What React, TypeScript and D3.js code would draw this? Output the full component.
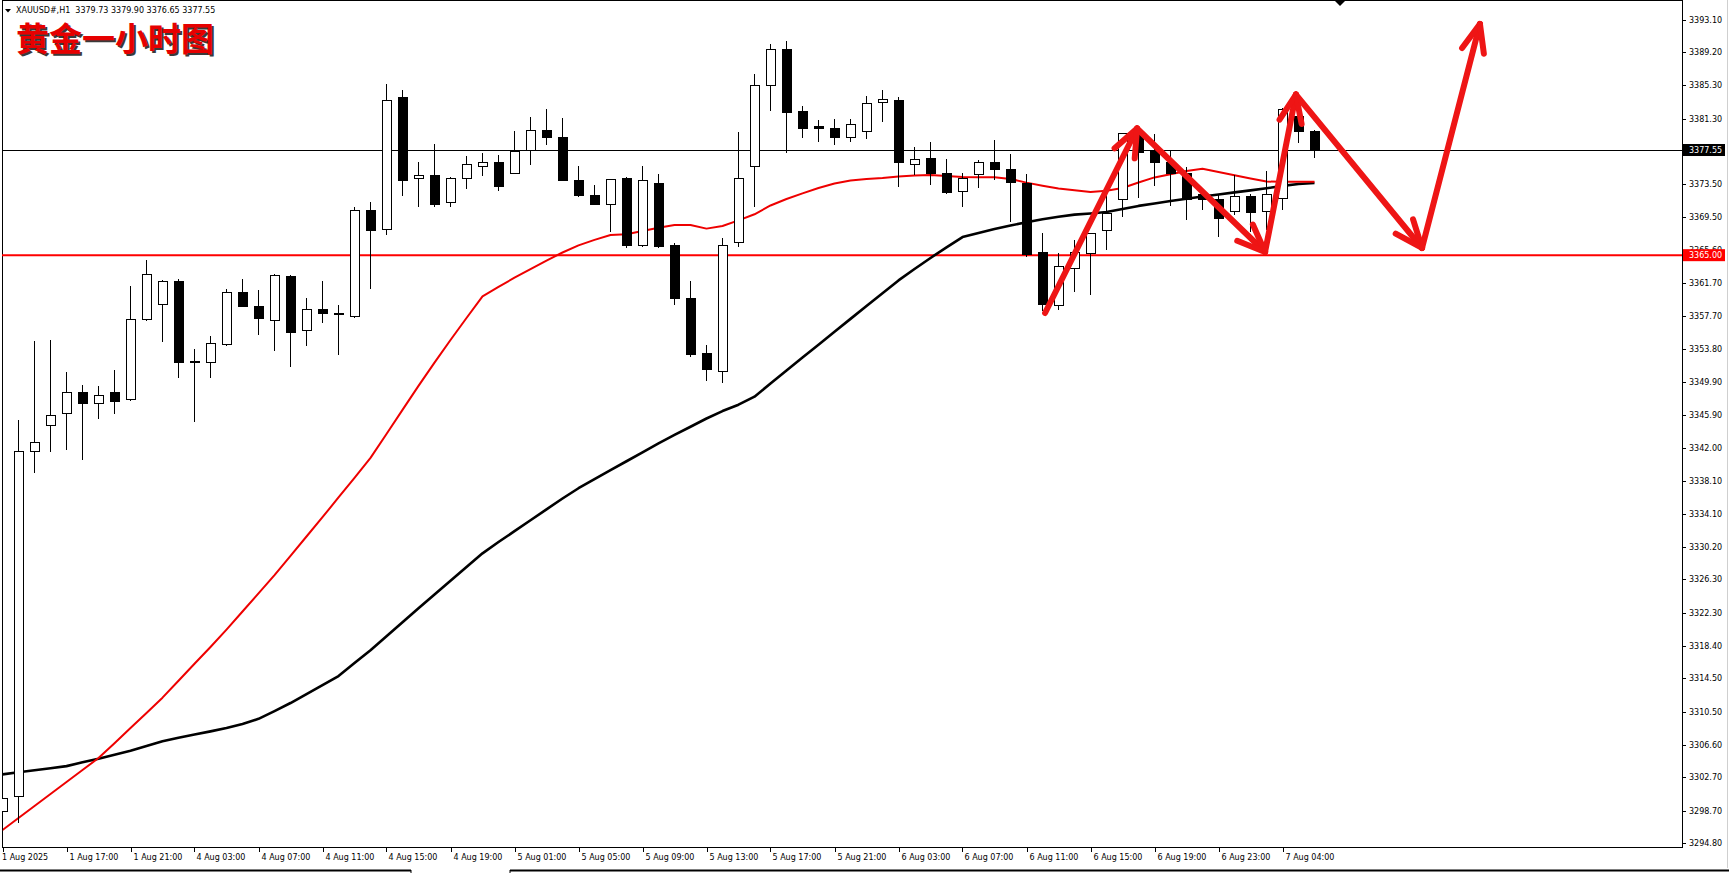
import React from 'react';
import * as d3 from 'd3';

// ---- Data (XAUUSD H1) ----
const OPEN = [
  3298.6, 3300.4, 3341.6, 3344.7, 3346.1, 3348.6, 3347.3, 3348.6, 3347.8, 3357.3,
  3359.1, 3361.9, 3352.3, 3352.2, 3354.4, 3360.5, 3358.9, 3357.2, 3362.4, 3356.0,
  3358.5, 3358.0, 3357.7, 3370.3, 3368.1, 3383.8, 3374.1, 3374.5, 3371.3, 3374.1,
  3375.6, 3376.1, 3374.8, 3377.5, 3379.9, 3379.0, 3373.9, 3372.1, 3371.1, 3374.2,
  3366.1, 3373.5, 3366.2, 3359.8, 3353.3, 3351.1, 3366.5, 3375.6, 3385.2, 3389.6,
  3382.1, 3380.4, 3380.1, 3379.0, 3379.7, 3383.2, 3383.4, 3375.8, 3376.5, 3374.7,
  3372.6, 3374.6, 3376.1, 3375.2, 3373.6, 3365.3, 3359.0, 3363.4, 3365.2, 3368.0,
  3371.6, 3379.5, 3377.5, 3376.0, 3374.8, 3372.2, 3371.6, 3370.2, 3372.0, 3370.2,
  3371.8, 3381.5, 3379.73,
];
const HIGH = [
  3301.3, 3345.3, 3354.7, 3354.9, 3351.1, 3349.5, 3349.4, 3351.3, 3361.3, 3364.4,
  3362.0, 3362.1, 3353.8, 3355.4, 3361.0, 3362.2, 3360.9, 3362.8, 3362.6, 3359.9,
  3361.9, 3359.1, 3370.8, 3371.3, 3385.4, 3384.7, 3376.1, 3378.3, 3374.3, 3376.8,
  3377.2, 3377.0, 3379.8, 3381.5, 3382.4, 3381.4, 3375.7, 3373.4, 3374.1, 3374.3,
  3375.7, 3374.7, 3366.5, 3361.9, 3354.3, 3367.0, 3379.7, 3386.6, 3390.2, 3390.6,
  3382.8, 3381.1, 3381.3, 3381.3, 3384.0, 3384.7, 3383.9, 3377.9, 3378.5, 3376.5,
  3374.8, 3376.4, 3378.7, 3377.1, 3374.7, 3367.7, 3365.3, 3366.8, 3367.7, 3373.4,
  3379.5, 3380.3, 3379.5, 3377.6, 3375.5, 3372.8, 3372.2, 3374.6, 3372.3, 3375.0,
  3382.6, 3382.3, 3379.90,
];
const LOW = [
  3296.4, 3297.3, 3339.0, 3341.5, 3341.7, 3340.6, 3345.5, 3346.0, 3347.6, 3357.2,
  3354.6, 3350.4, 3345.1, 3350.3, 3354.2, 3358.8, 3355.5, 3353.6, 3351.7, 3354.2,
  3356.9, 3353.1, 3357.5, 3361.0, 3367.4, 3372.1, 3370.8, 3370.8, 3370.8, 3372.9,
  3374.5, 3372.7, 3374.8, 3375.8, 3378.1, 3373.8, 3372.0, 3371.0, 3367.8, 3365.9,
  3366.0, 3365.9, 3359.1, 3352.9, 3350.0, 3349.8, 3366.0, 3370.7, 3382.2, 3377.2,
  3379.0, 3378.5, 3378.2, 3378.5, 3378.9, 3380.9, 3373.1, 3374.6, 3373.4, 3372.3,
  3370.7, 3373.0, 3374.0, 3369.0, 3364.8, 3358.3, 3358.5, 3360.6, 3360.2, 3365.6,
  3369.6, 3371.8, 3373.2, 3370.9, 3369.2, 3370.4, 3367.2, 3369.8, 3367.8, 3368.0,
  3370.4, 3378.4, 3376.65,
];
const CLOSE = [
  3300.2, 3341.6, 3342.6, 3345.9, 3348.6, 3347.3, 3348.2, 3347.5, 3357.3, 3362.7,
  3361.9, 3352.2, 3352.2, 3354.5, 3360.5, 3358.9, 3357.5, 3362.6, 3355.8, 3358.5,
  3358.1, 3357.9, 3370.3, 3367.9, 3383.4, 3373.9, 3374.5, 3371.0, 3374.2, 3375.8,
  3376.0, 3373.2, 3377.4, 3379.9, 3379.1, 3373.9, 3372.1, 3371.1, 3374.0, 3366.1,
  3373.9, 3366.0, 3359.8, 3353.1, 3351.3, 3366.2, 3374.1, 3385.2, 3389.6, 3382.0,
  3380.1, 3380.1, 3379.0, 3380.6, 3383.1, 3383.6, 3376.1, 3376.4, 3374.7, 3372.5,
  3374.2, 3376.1, 3375.2, 3373.7, 3365.1, 3359.1, 3363.6, 3365.3, 3367.6, 3370.0,
  3379.5, 3377.3, 3376.0, 3374.8, 3371.7, 3371.6, 3369.4, 3372.0, 3370.1, 3372.2,
  3382.4, 3379.7, 3377.55,
];
const MA_RED = [
  3296.40, 3297.84, 3299.27, 3300.70, 3302.13, 3303.56, 3305.00, 3306.76, 3308.58, 3310.37,
  3312.20, 3314.22, 3316.24, 3318.24, 3320.32, 3322.48, 3324.64, 3326.83, 3329.13, 3331.43,
  3333.73, 3336.09, 3338.44, 3340.81, 3343.67, 3346.54, 3349.40, 3352.18, 3354.88, 3357.50,
  3360.09, 3361.21, 3362.31, 3363.34, 3364.35, 3365.32, 3366.17, 3366.83, 3367.41, 3367.50,
  3367.88, 3368.27, 3368.60, 3368.60, 3368.17, 3368.48, 3369.15, 3369.88, 3370.93, 3371.70,
  3372.38, 3373.02, 3373.55, 3373.91, 3374.08, 3374.21, 3374.39, 3374.50, 3374.57, 3374.46,
  3374.34, 3374.29, 3374.29, 3374.10, 3373.66, 3373.29, 3372.96, 3372.74, 3372.54, 3372.68,
  3373.02, 3373.68, 3374.28, 3374.66, 3375.04, 3375.31, 3374.92, 3374.53, 3374.15, 3373.78,
  3373.77, 3373.77, 3373.77,
];
const MA_BLACK = [
  3303.05, 3303.30, 3303.53, 3303.78, 3304.03, 3304.48, 3304.91, 3305.39, 3305.86, 3306.42,
  3306.99, 3307.42, 3307.80, 3308.18, 3308.57, 3309.07, 3309.67, 3310.59, 3311.56, 3312.63,
  3313.71, 3314.78, 3316.33, 3317.86, 3319.52, 3321.20, 3322.87, 3324.52, 3326.15, 3327.79,
  3329.42, 3330.77, 3332.07, 3333.37, 3334.67, 3335.96, 3337.19, 3338.27, 3339.34, 3340.41,
  3341.48, 3342.55, 3343.56, 3344.53, 3345.51, 3346.40, 3347.16, 3348.12, 3349.69, 3351.23,
  3352.78, 3354.32, 3355.86, 3357.40, 3358.93, 3360.45, 3361.99, 3363.35, 3364.67, 3365.93,
  3367.16, 3367.66, 3368.13, 3368.54, 3368.93, 3369.29, 3369.58, 3369.84, 3369.98, 3370.15,
  3370.51, 3370.88, 3371.17, 3371.46, 3371.73, 3372.01, 3372.25, 3372.49, 3372.73, 3372.98,
  3373.27, 3373.49, 3373.61,
];
const Y_TICKS = [
  3393.10, 3389.20, 3385.30, 3381.30, 3377.40, 3373.50, 3369.50, 3365.60, 3361.70, 3357.70,
  3353.80, 3349.90, 3345.90, 3342.00, 3338.10, 3334.10, 3330.20, 3326.30, 3322.30, 3318.40,
  3314.50, 3310.50, 3306.60, 3302.70, 3298.70, 3294.80,
];
const X_LABEL_BARS = [0, 4, 8, 12, 16, 20, 24, 28, 32, 36, 40, 44, 48, 52, 56, 60, 64, 68, 72, 76, 80];
const X_LABEL_TEXT = [
  '1 Aug 2025', '1 Aug 17:00', '1 Aug 21:00', '4 Aug 03:00', '4 Aug 07:00', '4 Aug 11:00',
  '4 Aug 15:00', '4 Aug 19:00', '5 Aug 01:00', '5 Aug 05:00', '5 Aug 09:00', '5 Aug 13:00',
  '5 Aug 17:00', '5 Aug 21:00', '6 Aug 03:00', '6 Aug 07:00', '6 Aug 11:00', '6 Aug 15:00',
  '6 Aug 19:00', '6 Aug 23:00', '7 Aug 04:00',
];
const BID_PRICE = 3377.55;
const LEVEL_PRICE = 3365.0;
// hand-drawn forecast zigzag: [bar index, price]
const ARROW_BARS = [65.16, 70.91, 78.91, 80.84, 88.72, 92.34];
const ARROW_PRICES = [3358.1, 3380.12, 3365.38, 3384.17, 3365.86, 3392.59];
const HEADER = 'XAUUSD#,H1  3379.73 3379.90 3376.65 3377.55';
const TITLE = '黄金一小时图';

const FONT = '"DejaVu Sans", Tahoma, sans-serif';

export default function App() {
  const W = 1729;
  const H = 873;
  const plotL = 2;
  const plotR = 1682;
  const plotT = 1;
  const plotB = 847;

  const x = d3.scaleLinear().domain([0, 82]).range([2.5, 2.5 + 16 * 82]);
  const y = d3.scaleLinear().domain([3294.38, 3395.45]).range([plotB, 0]);

  const line = d3
    .line<number>()
    .x((_, i) => x(i))
    .y((d) => y(d));

  const candles = OPEN.map((o, i) => {
    const c = CLOSE[i];
    const cx = x(i);
    const up = c > o;
    const top = y(Math.max(o, c));
    const bot = y(Math.min(o, c));
    return { i, cx, up, top, bot, hy: y(HIGH[i]), ly: y(LOW[i]) };
  });

  const arrowSegs: JSX.Element[] = [];
  for (let k = 0; k < ARROW_BARS.length - 1; k++) {
    const x1 = x(ARROW_BARS[k]);
    const y1 = y(ARROW_PRICES[k]);
    const x2 = x(ARROW_BARS[k + 1]);
    const y2 = y(ARROW_PRICES[k + 1]);
    const ang = Math.atan2(y1 - y2, x1 - x2);
    const len = 30;
    const spread = (22 * Math.PI) / 180;
    const a1x = x2 + len * Math.cos(ang + spread);
    const a1y = y2 + len * Math.sin(ang + spread);
    const a2x = x2 + len * Math.cos(ang - spread);
    const a2y = y2 + len * Math.sin(ang - spread);
    arrowSegs.push(
      <g key={k}>
        <line x1={x1} y1={y1} x2={x2} y2={y2} />
        <line x1={x2} y1={y2} x2={a1x} y2={a1y} />
        <line x1={x2} y1={y2} x2={a2x} y2={a2y} />
      </g>
    );
  }

  return (
    <div style={{ position: 'fixed', left: 0, top: 0, width: W, height: H, background: '#fff' }}>
      <svg width={W} height={H} style={{ display: 'block' }}>
        <defs>
          <clipPath id="plot">
            <rect x={plotL} y={plotT} width={plotR - plotL} height={plotB - plotT} />
          </clipPath>
        </defs>
        <rect x={0} y={0} width={W} height={H} fill="#fff" />

        {/* chart frame */}
        <line x1={plotL + 0.5} y1={0} x2={plotL + 0.5} y2={plotB + 0.5} stroke="#000" />
        <line x1={plotL} y1={0.5} x2={plotR} y2={0.5} stroke="#000" />
        <line x1={plotR + 0.5} y1={0} x2={plotR + 0.5} y2={plotB + 0.5} stroke="#000" />
        <line x1={plotL} y1={plotB + 0.5} x2={plotR + 1} y2={plotB + 0.5} stroke="#000" />

        <g clipPath="url(#plot)">
          {/* price level lines */}
          <line x1={plotL} x2={plotR} y1={Math.round(y(BID_PRICE)) + 0.5} y2={Math.round(y(BID_PRICE)) + 0.5} stroke="#000" strokeWidth={1} />
          <line x1={plotL} x2={plotR} y1={y(LEVEL_PRICE)} y2={y(LEVEL_PRICE)} stroke="#ff0000" strokeWidth={2} />

          {/* moving averages */}
          <path d={line(MA_BLACK) || ''} fill="none" stroke="#000" strokeWidth={2.6} strokeLinejoin="round" />
          <path d={line(MA_RED) || ''} fill="none" stroke="#ee0000" strokeWidth={2} strokeLinejoin="round" />

          {/* candles */}
          <g shapeRendering="crispEdges">
            {candles.map((d) => (
              <g key={d.i}>
                <line x1={d.cx} x2={d.cx} y1={d.hy} y2={d.ly} stroke="#000" strokeWidth={1} />
                {d.bot - d.top < 1.5 ? (
                  <line x1={d.cx - 5} x2={d.cx + 5} y1={(d.top + d.bot) / 2} y2={(d.top + d.bot) / 2} stroke="#000" strokeWidth={2} />
                ) : (
                  <rect
                    x={d.cx - 4.5}
                    y={d.top}
                    width={9}
                    height={d.bot - d.top}
                    fill={d.up ? '#fff' : '#000'}
                    stroke="#000"
                    strokeWidth={1}
                  />
                )}
              </g>
            ))}
          </g>
        </g>

        {/* forecast arrows */}
        <g stroke="#ee1515" strokeWidth={6} strokeLinecap="round" strokeLinejoin="round" fill="none">
          {arrowSegs}
        </g>

        {/* y axis */}
        <g fontFamily={FONT} fontSize={8} fill="#000">
          {Y_TICKS.map((v) => {
            const ty = Math.round(y(v)) + 0.5;
            return (
              <g key={v}>
                <line x1={plotR} x2={plotR + 4} y1={ty} y2={ty} stroke="#000" />
                <text x={plotR + 7} y={ty} dominantBaseline="central">
                  {v.toFixed(2)}
                </text>
              </g>
            );
          })}
          <rect x={plotR + 1} y={y(BID_PRICE) - 6} width={42} height={12} fill="#000" />
          <text x={plotR + 7} y={y(BID_PRICE)} dominantBaseline="central" fill="#fff">
            {BID_PRICE.toFixed(2)}
          </text>
          <rect x={plotR + 1} y={y(LEVEL_PRICE) - 6} width={42} height={12} fill="#ff0000" />
          <text x={plotR + 7} y={y(LEVEL_PRICE)} dominantBaseline="central" fill="#fff">
            {LEVEL_PRICE.toFixed(2)}
          </text>
        </g>

        {/* x axis */}
        <g fontFamily={FONT} fontSize={8} fill="#000">
          {X_LABEL_BARS.map((b, k) => {
            const tx = Math.round(x(b)) + 0.5;
            return (
              <g key={b}>
                <line x1={tx} x2={tx} y1={plotB} y2={plotB + 5} stroke="#000" />
                <text x={k === 0 ? 2 : tx + 2} y={plotB + 13}>
                  {X_LABEL_TEXT[k]}
                </text>
              </g>
            );
          })}
        </g>

        {/* shift marker */}
        <polygon points="1335,1 1345,1 1340,6" fill="#000" />

        {/* header */}
        <polygon points="5,9 11,9 8,12.5" fill="#000" />
        <text x={16} y={12.5} fontFamily={FONT} fontSize={8} fill="#000" style={{ whiteSpace: 'pre' }}>
          {HEADER}
        </text>
        <text x={18} y={53} fontFamily='"Noto Sans CJK SC", sans-serif' fontWeight={700} fontSize={33} fill="#3a3a3a">
          {TITLE}
        </text>
        <text x={16} y={51} fontFamily='"Noto Sans CJK SC", sans-serif' fontWeight={700} fontSize={33} fill="#e60000">
          {TITLE}
        </text>

        {/* bottom window strip */}
        <line x1={0} x2={411} y1={870.5} y2={870.5} stroke="#000" strokeWidth={2} />
        <line x1={510} x2={W} y1={870.5} y2={870.5} stroke="#000" strokeWidth={2} />
        <line x1={411} x2={411} y1={870} y2={H} stroke="#000" />
        <line x1={510} x2={510} y1={870} y2={H} stroke="#000" />
        <line x1={1727.5} x2={1727.5} y1={0} y2={868} stroke="#cfcfcf" />
      </svg>
    </div>
  );
}
